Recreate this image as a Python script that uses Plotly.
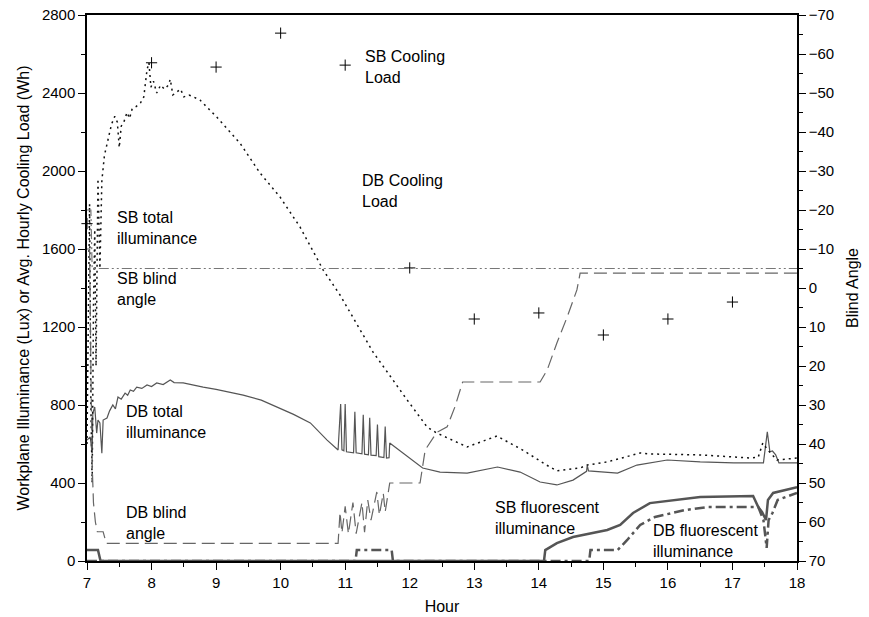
import plotly.graph_objects as go

# ---------------- data ----------------
cool_hours = [7, 8, 9, 10, 11, 12, 13, 14, 15, 16, 17]
sb_cooling = [1730, 2555, 2533, 2707, 2543, 1503, 1241, 1272, 1159, 1241, 1328]

sb_total_h = [7.00, 7.02, 7.04, 7.06, 7.08, 7.10, 7.12, 7.14, 7.17, 7.20, 7.23, 7.27, 7.33, 7.38,
              7.43, 7.47, 7.50, 7.53, 7.57, 7.62, 7.66, 7.70, 7.76, 7.83, 7.88, 7.93, 7.96, 7.99,
              8.03, 8.08, 8.14, 8.20, 8.26, 8.29, 8.33, 8.40, 8.45, 8.50, 8.58, 8.65, 8.75, 9.01,
              9.37, 9.68, 9.99, 10.30, 10.66, 10.92, 11.10, 11.23, 11.43, 11.96, 12.27, 12.42,
              12.89, 13.35, 13.75, 14.12, 14.28, 14.64, 14.75, 15.06, 15.57, 15.72, 16.50,
              17.27, 17.40, 17.47, 17.55, 17.69, 18.00]
sb_total_v = [600, 1250, 1830, 800, 400, 1300, 1700, 1000, 1960, 1500, 1950, 2080, 2170, 2240,
              2280, 2250, 2120, 2230, 2250, 2300, 2270, 2320, 2330, 2350, 2380, 2520, 2555, 2430,
              2460, 2400, 2440, 2420, 2440, 2470, 2390, 2410, 2420, 2380, 2390, 2380, 2364, 2277,
              2143, 1990, 1867, 1713, 1492, 1364, 1260, 1185, 1072, 826, 687, 656,
              585, 641, 569, 492, 462, 477, 492, 508, 554, 549, 544,
              528, 533, 605, 569, 518, 528]

db_total_h = [7.00, 7.05, 7.08, 7.09, 7.12, 7.15, 7.17, 7.20, 7.23, 7.25, 7.31, 7.35, 7.40, 7.44,
              7.48, 7.53, 7.59, 7.63, 7.67, 7.72, 7.77, 7.85, 7.93, 8.00, 8.08, 8.18, 8.29, 8.35,
              8.49, 8.60, 8.80, 9.00, 9.17, 9.42, 9.70, 9.94, 10.20, 10.46, 10.72, 10.89,
              10.93, 10.95, 10.98, 11.00, 11.02, 11.13, 11.15, 11.17, 11.26, 11.28, 11.30, 11.36,
              11.38, 11.40, 11.48, 11.50, 11.52, 11.60, 11.62, 11.64, 11.68, 11.69, 12.20, 12.47,
              12.89, 13.36, 13.71, 14.02, 14.28, 14.53, 14.74, 14.75, 14.77, 15.22, 15.52, 15.99,
              16.50, 17.02, 17.48, 17.54, 17.58, 17.62, 17.67, 17.72, 18.00]
db_total_v = [620, 636, 553, 759, 790, 656, 723, 708, 553, 723, 733, 770, 800, 780,
              841, 830, 861, 850, 877, 870, 892, 885, 903, 895, 913, 905, 928, 915,
              913, 905, 892, 880, 867, 851, 825, 790, 752, 708, 620, 569,
              805, 570, 565, 805, 560, 555, 765, 555, 550, 750, 548, 545,
              735, 543, 540, 700, 535, 530, 690, 528, 530, 605, 477, 456,
              451, 482, 456, 405, 390, 415, 460, 490, 462, 451, 492, 518,
              508, 503, 503, 662, 560, 564, 544, 503, 503]

sb_blind_h = [7.00, 7.06, 7.08, 18.00]
sb_blind_v = [-20, -20, -5, -5]

db_blind_h = [7.00, 7.04, 7.06, 7.08, 7.10, 7.13, 7.16, 7.25, 7.30, 10.89, 10.92, 10.95, 11.00,
              11.05, 11.12, 11.17, 11.26, 11.30, 11.35, 11.40, 11.49, 11.53, 11.59, 11.62, 11.69,
              12.16, 12.24, 12.42, 12.58, 12.70, 12.82, 14.02, 14.13, 14.28, 14.44, 14.59, 14.64,
              18.00]
db_blind_v = [-10, -10, 20, 45, 55, 60, 62.5, 62.5, 65.5, 65.5, 57.5, 62.8, 56,
              63, 55, 63, 55, 62.6, 54.4, 59.5, 52.3, 58.2, 52.6, 57.4, 50,
              50, 41.5, 37, 35.6, 30.5, 24.1, 24.1, 21, 14.1, 7.4, 0.5, -3.8,
              -3.8]

sb_fluor_h = [7.00, 7.17, 7.21, 14.08, 14.10, 14.28, 14.53, 15.06, 15.26, 15.46, 15.72, 15.99,
              16.50, 17.32, 17.40, 17.46, 17.52, 17.55, 17.63, 18.00]
sb_fluor_v = [56, 56, 0, 0, 56, 92, 123, 159, 185, 246, 297, 308,
              328, 333, 277, 250, 210, 313, 349, 379]

db_fluor_h = [7.00, 11.16, 11.18, 11.72, 11.74, 14.78, 14.80, 15.22, 15.37, 15.57, 15.80, 16.26,
              16.62, 17.40, 17.48, 17.53, 17.56, 17.62, 17.70, 18.00]
db_fluor_v = [0, 0, 56, 56, 0, 0, 56, 56, 108, 185, 226, 261,
              277, 277, 210, 67, 210, 246, 313, 349]

labels = [
    (11.28, 2533, "SB Cooling<br>Load"),
    (11.23, 1897, "DB Cooling<br>Load"),
    (7.43, 1708, "SB total<br>illuminance"),
    (7.43, 1395, "SB blind<br>angle"),
    (7.57, 713, "DB total<br>illuminance"),
    (7.57, 195, "DB blind<br>angle"),
    (13.29, 221, "SB fluorescent<br>illuminance"),
    (15.74, 103, "DB fluorescent<br>illuminance"),
]

# ---------------- figure ----------------
FONT = "Liberation Sans, Arial, Helvetica, sans-serif"
fig = go.Figure()

fig.add_trace(go.Scatter(x=db_blind_h, y=db_blind_v, mode="lines", yaxis="y2",
                         line=dict(color="#666666", width=1.2, dash="13px,6px")))
fig.add_trace(go.Scatter(x=sb_blind_h, y=sb_blind_v, mode="lines", yaxis="y2",
                         line=dict(color="#777777", width=1.2, dash="10px,3px,2px,3px,2px,3px")))
fig.add_trace(go.Scatter(x=db_total_h, y=db_total_v, mode="lines",
                         line=dict(color="#555555", width=1.2)))
fig.add_trace(go.Scatter(x=sb_total_h, y=sb_total_v, mode="lines",
                         line=dict(color="#111111", width=1.5, dash="2px,4px")))
fig.add_trace(go.Scatter(x=db_fluor_h, y=db_fluor_v, mode="lines",
                         line=dict(color="#555555", width=2.5, dash="10px,4px,3px,4px")))
fig.add_trace(go.Scatter(x=sb_fluor_h, y=sb_fluor_v, mode="lines",
                         line=dict(color="#555555", width=2.5)))
fig.add_trace(go.Scatter(x=cool_hours, y=sb_cooling, mode="markers", cliponaxis=False,
                         marker=dict(symbol="cross-thin", size=8, line=dict(color="black", width=1))))

for x, y, t in labels:
    fig.add_annotation(x=x, y=y, text=t, showarrow=False, xanchor="left", yanchor="middle",
                       align="left", font=dict(family=FONT, size=16, color="black"))

axis_common = dict(showgrid=False, zeroline=False, showline=True, linecolor="black", linewidth=1.5,
                   ticks="outside", ticklen=7, tickcolor="black", tickwidth=1.2, automargin=False,
                   tickfont=dict(family=FONT, size=15, color="black"))

fig.update_layout(
    width=869, height=617,
    margin=dict(l=87, r=72, t=15, b=56),
    paper_bgcolor="white", plot_bgcolor="white",
    showlegend=False,
    font=dict(family=FONT, size=15, color="black"),
    xaxis=dict(range=[7, 18], dtick=1, tick0=7, mirror=True,
               minor=dict(dtick=0.5, ticklen=4, ticks="outside", tickcolor="black"),
               title=dict(text="Hour", font=dict(family=FONT, size=16), standoff=11),
               **axis_common),
    yaxis=dict(range=[0, 2800], dtick=400, tick0=0,
               minor=dict(dtick=200, ticklen=4, ticks="outside", tickcolor="black"),
               title=dict(text="Workplane Illuminance (Lux) or Avg. Hourly Cooling Load (Wh)",
                          font=dict(family=FONT, size=16), standoff=8),
               **axis_common),
    yaxis2=dict(range=[70, -70], overlaying="y", side="right", dtick=10, tick0=0,
                minor=dict(dtick=5, ticklen=4, ticks="outside", tickcolor="black"),
                title=dict(text="Blind Angle", font=dict(family=FONT, size=16), standoff=14),
                **axis_common),
)

# remove the browser's default 8px page margin so the figure fills the window exactly
fig.write_html("out.html", config={"displayModeBar": False},
               post_script="document.body.style.margin='0';")
